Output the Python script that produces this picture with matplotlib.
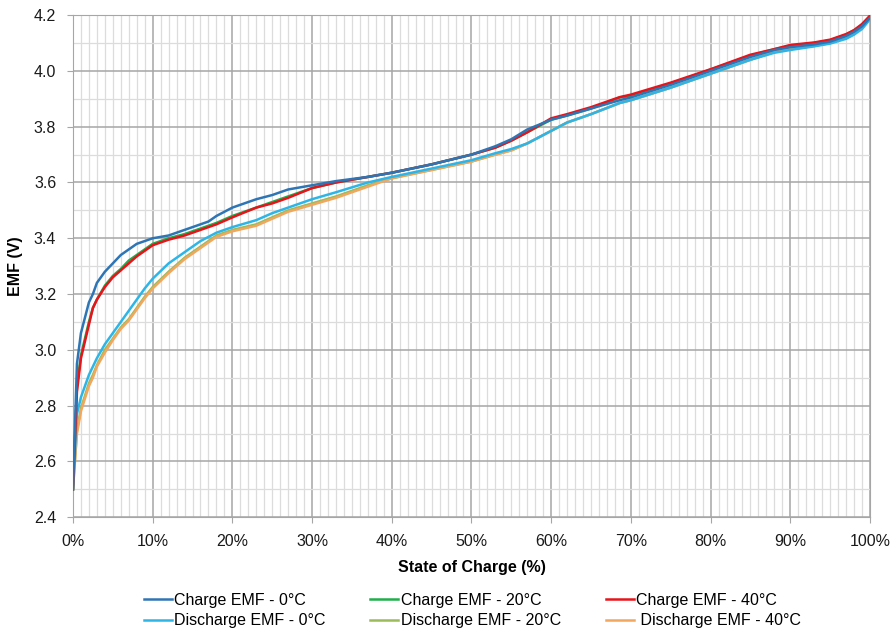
import numpy as np
import matplotlib
matplotlib.use("Agg")
import matplotlib.pyplot as plt
from matplotlib.ticker import MultipleLocator, FuncFormatter

plt.rcParams['font.family'] = ['Liberation Sans', 'DejaVu Sans']

# state of charge (%) sample points
soc = [0, 0.5, 1, 2, 2.5, 3, 4, 5, 6, 7, 8, 9, 10, 12, 14, 16, 17, 18, 20, 23,
       25, 27, 30, 33, 37, 40, 45, 50, 53, 55, 57, 60, 62, 65, 68.6, 70, 75, 80,
       85, 88, 90, 93, 95, 97, 98, 99, 100]

charge_0 = [2.50, 2.95, 3.06, 3.17, 3.20, 3.24, 3.28, 3.31, 3.34, 3.36, 3.38, 3.39, 3.40,
            3.41, 3.43, 3.45, 3.46, 3.48, 3.51, 3.54, 3.555, 3.575, 3.59, 3.605, 3.62,
            3.635, 3.665, 3.70, 3.73, 3.755, 3.79, 3.825, 3.84, 3.865, 3.895, 3.905,
            3.95, 4.00, 4.05, 4.075, 4.085, 4.095, 4.105, 4.125, 4.14, 4.16, 4.19]
charge_20 = [2.50, 2.87, 2.98, 3.10, 3.15, 3.18, 3.23, 3.265, 3.29, 3.32, 3.34, 3.36, 3.38,
             3.40, 3.415, 3.435, 3.445, 3.455, 3.48, 3.51, 3.53, 3.55, 3.58, 3.60, 3.62,
             3.635, 3.665, 3.70, 3.725, 3.75, 3.78, 3.825, 3.84, 3.865, 3.905, 3.91,
             3.955, 4.005, 4.055, 4.078, 4.09, 4.10, 4.11, 4.13, 4.146, 4.165, 4.196]
charge_40 = [2.50, 2.85, 2.97, 3.09, 3.15, 3.18, 3.225, 3.26, 3.285, 3.31, 3.335, 3.355, 3.375,
             3.395, 3.41, 3.43, 3.44, 3.45, 3.475, 3.51, 3.525, 3.545, 3.58, 3.60, 3.62,
             3.635, 3.665, 3.70, 3.725, 3.75, 3.78, 3.83, 3.845, 3.87, 3.906, 3.915,
             3.958, 4.006, 4.058, 4.078, 4.093, 4.102, 4.112, 4.132, 4.146, 4.168, 4.198]
discharge_0 = [2.50, 2.77, 2.83, 2.91, 2.94, 2.97, 3.02, 3.06, 3.10, 3.14, 3.18, 3.22, 3.255,
               3.31, 3.35, 3.39, 3.405, 3.42, 3.44, 3.465, 3.49, 3.51, 3.54, 3.565, 3.60,
               3.62, 3.65, 3.68, 3.705, 3.72, 3.74, 3.785, 3.815, 3.845, 3.885, 3.895,
               3.94, 3.99, 4.04, 4.065, 4.075, 4.088, 4.098, 4.115, 4.13, 4.15, 4.185]
discharge_20 = [2.50, 2.71, 2.79, 2.88, 2.91, 2.945, 3.00, 3.04, 3.08, 3.11, 3.15, 3.19, 3.225,
                3.28, 3.33, 3.37, 3.39, 3.41, 3.43, 3.45, 3.475, 3.50, 3.525, 3.55, 3.59,
                3.615, 3.645, 3.675, 3.70, 3.715, 3.74, 3.785, 3.815, 3.845, 3.885, 3.895,
                3.94, 3.99, 4.04, 4.068, 4.078, 4.09, 4.10, 4.12, 4.135, 4.155, 4.19]
discharge_40 = [2.50, 2.70, 2.78, 2.87, 2.90, 2.94, 2.99, 3.035, 3.075, 3.105, 3.145, 3.185, 3.22,
                3.275, 3.325, 3.365, 3.385, 3.405, 3.425, 3.445, 3.47, 3.495, 3.52, 3.545, 3.585,
                3.615, 3.645, 3.675, 3.70, 3.715, 3.74, 3.785, 3.815, 3.845, 3.885, 3.895,
                3.94, 3.99, 4.04, 4.068, 4.078, 4.09, 4.10, 4.12, 4.135, 4.155, 4.19]

labels = ['Charge EMF - 0°C', 'Charge EMF - 20°C', 'Charge EMF - 40°C',
          'Discharge EMF - 0°C', 'Discharge EMF - 20°C', ' Discharge EMF - 40°C']
colors = ['#2E75B6', '#1FAE4B', '#E8141B', '#2EB5E8', '#9BBB59', '#F2A65E']
series = [charge_0, charge_20, charge_40, discharge_0, discharge_20, discharge_40]

fig = plt.figure(figsize=(8.93, 6.3), dpi=100)
ax = fig.add_axes([0.0817, 0.179, 0.8925, 0.797])

lines = {}
# draw order: discharge below, charge on top
for i in [4, 5, 3, 1, 2, 0]:
    ln, = ax.plot(np.array(soc) / 100, series[i], color=colors[i], lw=1.8,
                  label=labels[i], zorder=3)
    lines[i] = ln

ax.set_xlim(0, 1)
ax.set_ylim(2.4, 4.2)
ax.xaxis.set_major_locator(MultipleLocator(0.1))
ax.xaxis.set_minor_locator(MultipleLocator(0.01))
ax.yaxis.set_major_locator(MultipleLocator(0.2))
ax.yaxis.set_minor_locator(MultipleLocator(0.1))
ax.xaxis.set_major_formatter(FuncFormatter(lambda v, p: f'{v*100:.0f}%'))
ax.yaxis.set_major_formatter(FuncFormatter(lambda v, p: f'{v:.1f}'))

ax.grid(which='major', color='#A6A6A6', lw=1.1, zorder=1)
ax.grid(which='minor', color='#DCDCDC', lw=0.9, zorder=0)
for s in ax.spines.values():
    s.set_color('#A6A6A6')
ax.tick_params(which='both', colors='#A6A6A6', labelcolor='#1a1a1a', labelsize=11.5)
ax.tick_params(which='major', length=4)
ax.tick_params(which='minor', length=0)
ax.tick_params(axis='x', pad=8)
ax.tick_params(axis='y', pad=8)

ax.set_xlabel('State of Charge (%)', fontsize=11.5, fontweight='bold', labelpad=8)
ax.set_ylabel('EMF (V)', fontsize=11.5, fontweight='bold', labelpad=8)

order = [0, 3, 1, 4, 2, 5]
fig.legend([lines[i] for i in order], [labels[i] for i in order], ncol=3,
           loc='center', bbox_to_anchor=(0.529, 0.031), frameon=False,
           fontsize=11.5, handlelength=1.75, handletextpad=0.15,
           columnspacing=2.8, labelspacing=0.35)

fig.savefig('out.png', dpi=100)
